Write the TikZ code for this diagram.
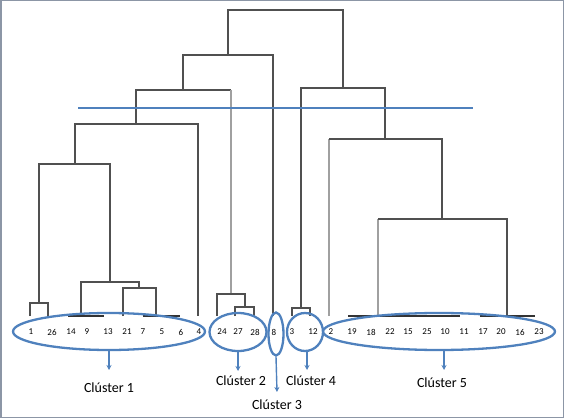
\documentclass[tikz,border=0pt]{standalone}
\usepackage{fontspec}
\setmainfont{Carlito}
\usetikzlibrary{shapes.geometric,arrows.meta}
\definecolor{cblue}{RGB}{79,129,189}
\definecolor{dgray}{RGB}{80,80,80}
\definecolor{lgray}{RGB}{160,160,160}
\definecolor{frame}{RGB}{140,150,166}
\begin{document}
\begin{tikzpicture}[x=1pt,y=-1pt,
  link/.style={draw=dgray,line width=1.2pt},
  lightlink/.style={draw=lgray,line width=1.3pt},
  flat/.style={draw=black!80,line width=1.6pt},
  leaf/.style={font=\fontsize{9}{10}\selectfont,text=black,inner sep=0pt},
  clus/.style={draw=cblue,line width=2.3pt,ellipse,inner sep=0pt},
  pointer/.style={draw=cblue,line width=1.4pt,-{Stealth[length=5pt,width=5pt]}},
  clab/.style={font=\fontsize{14}{16}\selectfont,text=black,inner sep=0pt}]
\useasboundingbox (0,0) rectangle (564,419);
\draw[frame,line width=1.5pt] (0.75,0.75) rectangle (563.25,417.5);

% dendrogram merge points
\path[link] (228,55) -- (228,10) -- (343,10) -- (343,88);
\path[link] (183,90) -- (183,55) -- (273,55) -- (273,316);
\path[link] (136,124) -- (136,90) -- (231,90);
\path[lightlink] (231,90) -- (231,294);
\path[link] (75,164) -- (75,124) -- (198,124) -- (198,316);
\path[link] (39,303) -- (39,164) -- (110,164) -- (110,282);
\path[link] (81,316) -- (81,282) -- (139,282) -- (139,288);
\path[link] (123,316) -- (123,288) -- (156,288) -- (156,316);
\path[link] (30,316) -- (30,303) -- (48,303) -- (48,316);
\path[link] (217,316) -- (217,294) -- (245,294) -- (245,307);
\path[link] (235,316) -- (235,307) -- (254,307) -- (254,316);
\path[link] (301,308) -- (301,88) -- (385,88) -- (385,139);
\path[link] (292,316) -- (292,308) -- (310,308) -- (310,316);
\path[lightlink] (329,316) -- (329,139);
\path[link] (329,139) -- (442,139) -- (442,219);
\path[lightlink] (378,316) -- (378,219);
\path[link] (378,219) -- (507,219) -- (507,316);
\path[flat] (68,316) -- (104,316);
\path[flat] (143,316) -- (180,316);
\path[flat] (348,316) -- (460,316);
\path[flat] (480,316) -- (535,316);

% cut line
\draw[cblue,line width=2.8pt] (78,108) -- (473,108);

% leaf labels
\foreach \lab/\xx in {1/31,26/52,14/71,9/87,13/108,21/127,7/143,5/162,6/181,4/199,
  24/222,27/238,28/255,8/274,3/292,12/313,2/331,19/352,18/371,22/390,15/408,25/427,
  10/445,11/464,17/483,20/501,16/520,23/539}
  \node[leaf] (l\lab) at (\xx,332) {\lab};

% cluster ellipses
\node[clus,minimum width=192pt,minimum height=37pt] (c1) at (109,331.5) {};
\node[clus,minimum width=57pt,minimum height=38pt] (c2) at (238,332) {};
\node[clus,minimum width=15pt,minimum height=43pt] (c3) at (276,334) {};
\node[clus,minimum width=36pt,minimum height=38pt] (c4) at (305,332) {};
\node[clus,minimum width=232pt,minimum height=37pt] (c5) at (439,331.5) {};

% labels
\node[clab] (t1) at (109,388) {Clúster 1};
\node[clab] (t2) at (241,381) {Clúster 2};
\node[clab] (t3) at (277,405) {Clúster 3};
\node[clab] (t4) at (311,381) {Clúster 4};
\node[clab] (t5) at (442,383) {Clúster 5};

\coordinate (a1) at (109,370);
\coordinate (a2) at (238,371);
\coordinate (a3) at (277,392);
\coordinate (a4) at (307,370);
\coordinate (a5) at (444,370);
\draw[pointer] (c1.south) -- (a1);
\draw[pointer] (c2.south) -- (a2);
\draw[pointer] (c3.south) -- (a3);
\draw[pointer] (c4.south -| a4) -- (a4);
\draw[pointer] (c5.south -| a5) -- (a5);
\end{tikzpicture}
\end{document}
